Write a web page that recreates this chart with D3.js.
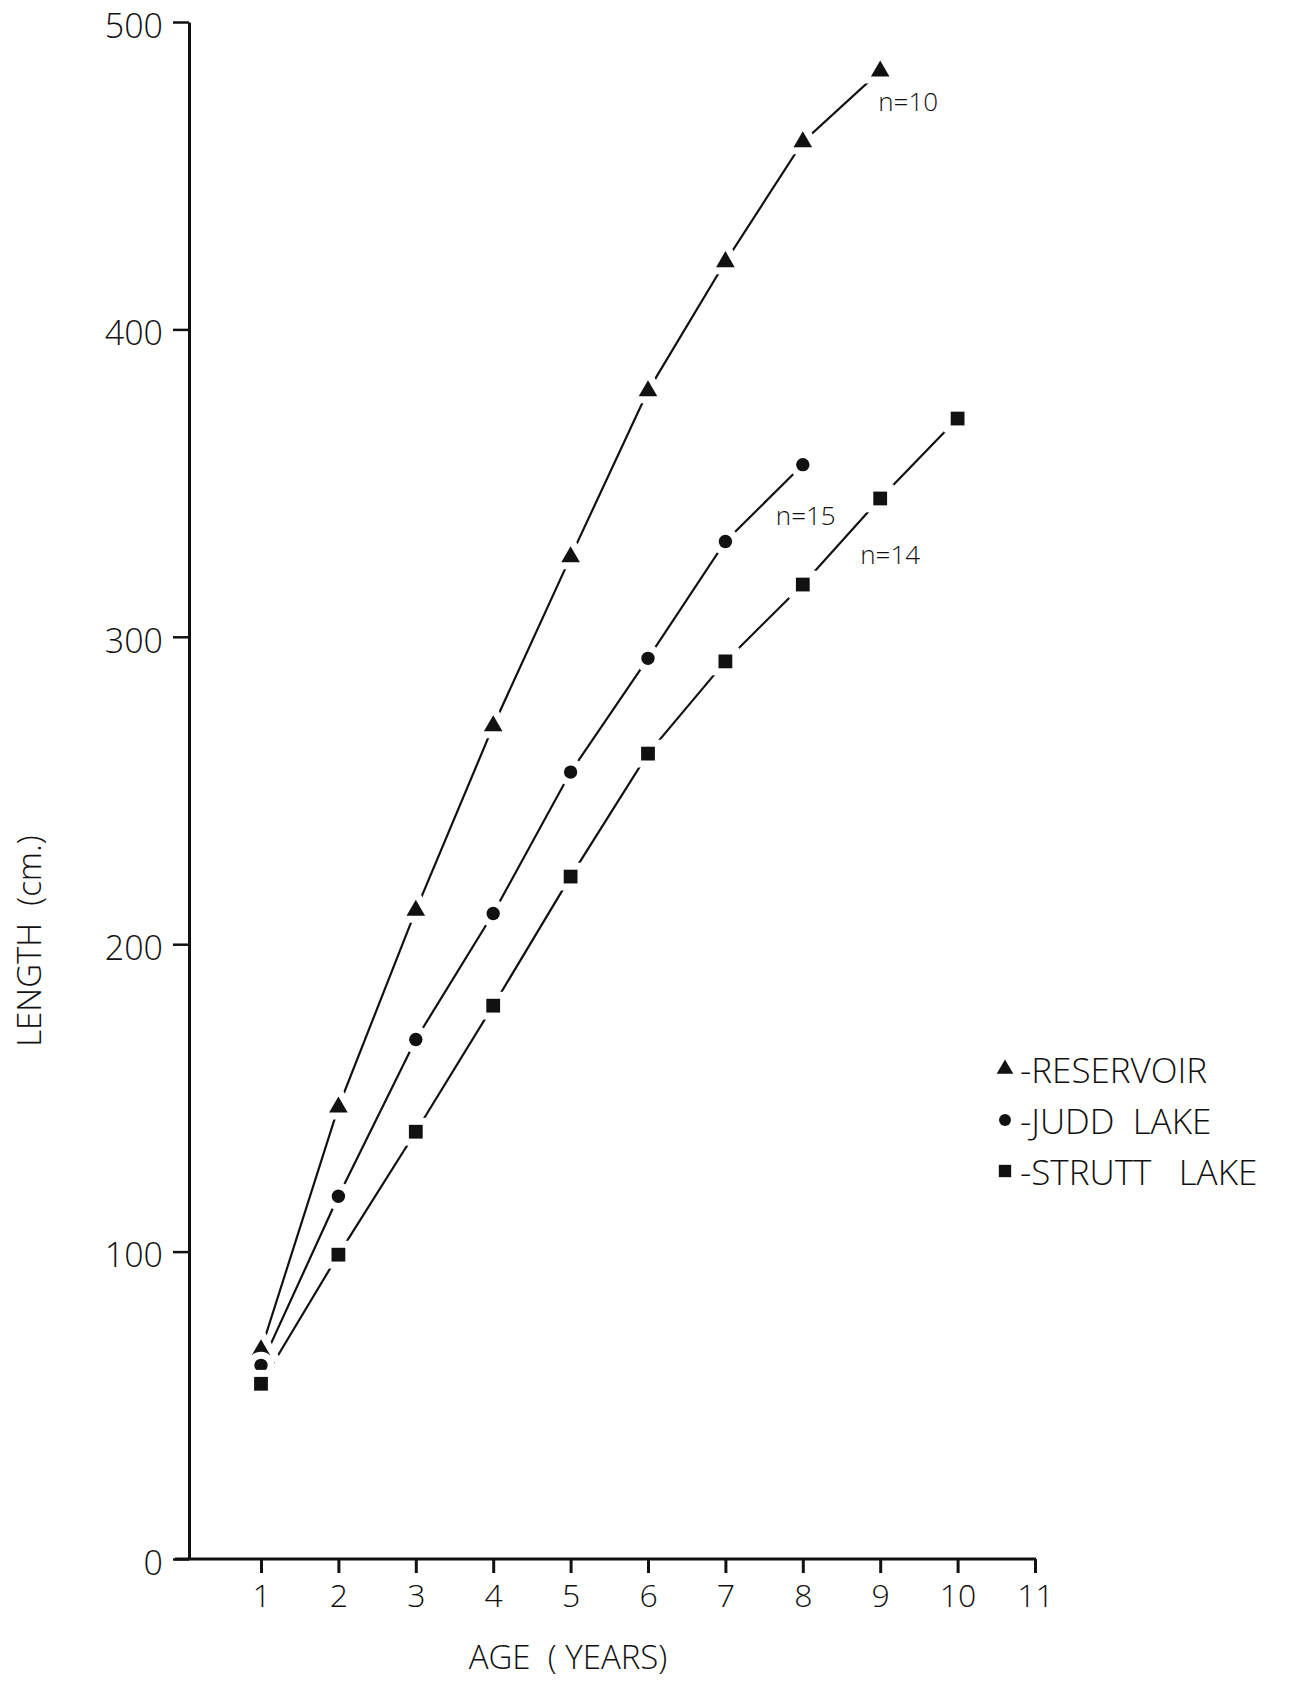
<!DOCTYPE html>
<html lang="en">
<head>
    <meta charset="utf-8">
    <script src="https://d3js.org/d3.v7.min.js"></script>
    <title>Length at age</title>
    <style>
        body {
            margin: 0;
            background: #fff;
        }

        text {
            font-family: "Open Sans", "Roboto", sans-serif;
            font-weight: 300;
            fill: #111;
            white-space: pre;
        }

        .axis path,
        .axis line {
            stroke: #111;
        }
    </style>
</head>
<body>
    <svg id="chart" width="1294" height="1681"></svg>

    <script>
        const ages = [1, 2, 3, 4, 5, 6, 7, 8, 9, 10];
        const reservoir = [68, 147, 211, 271, 326, 380, 422, 461, 484];
        const juddLake = [63, 118, 169, 210, 256, 293, 331, 356];
        const struttLake = [57, 99, 139, 180, 222, 262, 292, 317, 345, 371];

        const xTicks = [1, 2, 3, 4, 5, 6, 7, 8, 9, 10, 11];
        const yTicks = [0, 100, 200, 300, 400, 500];

        const seriesNames = ["RESERVOIR", "JUDD  LAKE", "STRUTT   LAKE"];
        const sampleLabels = ["n=10", "n=15", "n=14"];
        // age of the point each n= label sits next to
        const sampleAges = [9, 8, 9];

        const svg = d3.select("#chart");

        const x = d3.scaleLinear().domain([1, 11]).range([261, 1035]);
        const y = d3.scaleLinear().domain([0, 500]).range([1559, 22]);
        const axisX = 189;

        const series = [
            { name: seriesNames[0], values: reservoir, symbol: d3.symbolTriangle, size: 150, dx: -2, dy: 40 },
            { name: seriesNames[1], values: juddLake, symbol: d3.symbolCircle, size: 140, dx: -27, dy: 60 },
            { name: seriesNames[2], values: struttLake, symbol: d3.symbolSquare, size: 190, dx: -20, dy: 66 }
        ];

        // y axis
        const yAxis = d3.axisLeft(y)
            .tickValues(yTicks)
            .tickSize(16)
            .tickPadding(10)
            .tickSizeOuter(0);

        const gy = svg.append("g")
            .attr("class", "axis")
            .attr("transform", `translate(${axisX},0)`)
            .call(yAxis);
        gy.select(".domain").attr("stroke-width", 3);
        gy.selectAll(".tick line").attr("stroke-width", 2.5);
        gy.selectAll(".tick text")
            .style("font-size", "34px")
            .attr("dy", "0.45em");

        // x axis
        const xAxis = d3.axisBottom(x)
            .tickValues(xTicks)
            .tickSize(14)
            .tickPadding(12)
            .tickSizeOuter(0);

        const gx = svg.append("g")
            .attr("class", "axis")
            .attr("transform", `translate(0,${y(0)})`)
            .call(xAxis);
        gx.select(".domain")
            .attr("d", `M${axisX - 14},0H${x(11) + 1}`)
            .attr("stroke-width", 3);
        gx.selectAll(".tick line").attr("stroke-width", 3);
        gx.selectAll(".tick text")
            .style("font-size", "32px")
            .attr("dy", "0.68em");

        // axis titles
        svg.append("text")
            .attr("x", 568)
            .attr("y", 1669)
            .attr("text-anchor", "middle")
            .style("font-size", "33px")
            .text("AGE  ( YEARS)");

        svg.append("text")
            .attr("transform", "translate(41,941) rotate(-90)")
            .attr("text-anchor", "middle")
            .style("font-size", "33px")
            .text("LENGTH  (cm.)");

        // lines
        const line = d3.line()
            .x((d, i) => x(ages[i]))
            .y(d => y(d));

        series.forEach(s => {
            svg.append("path")
                .datum(s.values)
                .attr("d", line)
                .attr("fill", "none")
                .attr("stroke", "#111")
                .attr("stroke-width", 2.2);
        });

        // markers with a white gap round them
        series.forEach((s, k) => {
            const sym = d3.symbol().type(s.symbol).size(s.size);
            const g = svg.append("g");
            g.selectAll(".halo")
                .data(s.values)
                .enter().append("path")
                .attr("transform", (d, i) => `translate(${x(ages[i])},${y(d)})`)
                .attr("d", sym)
                .attr("fill", "#fff")
                .attr("stroke", "#fff")
                .attr("stroke-width", 14);
            g.selectAll(".mark")
                .data(s.values)
                .enter().append("path")
                .attr("transform", (d, i) => `translate(${x(ages[i])},${y(d)})`)
                .attr("d", sym)
                .attr("fill", "#111");

            const a = sampleAges[k];
            svg.append("text")
                .attr("x", x(a) + s.dx)
                .attr("y", y(s.values[ages.indexOf(a)]) + s.dy)
                .style("font-size", "26px")
                .text(sampleLabels[k]);
        });

        // legend
        const legend = svg.append("g").attr("transform", "translate(1005,0)");
        series.forEach((s, i) => {
            const cy = 1069 + i * 51;
            legend.append("path")
                .attr("transform", `translate(0,${cy})`)
                .attr("d", d3.symbol().type(s.symbol).size(s.size * 0.8))
                .attr("fill", "#111");
            legend.append("text")
                .attr("x", 15)
                .attr("y", cy + 14)
                .style("font-size", "35px")
                .text("-" + s.name);
        });
    </script>
</body>
</html>
